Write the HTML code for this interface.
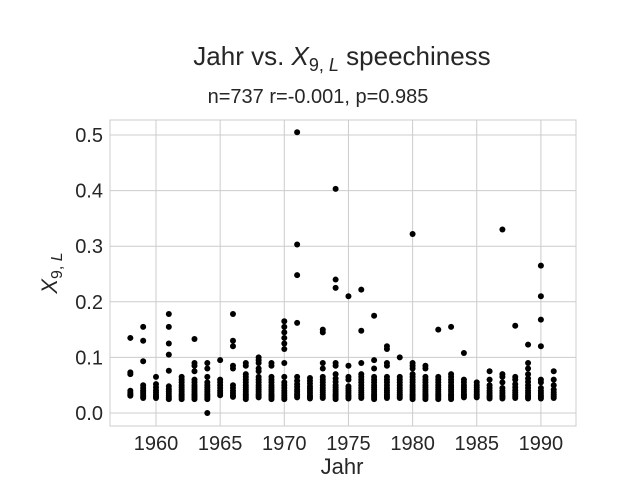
<!DOCTYPE html>
<html><head><meta charset="utf-8"><style>
body{margin:0;background:#fff}
svg text{font-family:"Liberation Sans","DejaVu Sans",sans-serif;fill:#262626}
</style></head><body>
<svg id="chart" width="640" height="480">
<rect width="640" height="480" fill="#fff"/>
<g id="grid"></g>
<rect x="110" y="120" width="466" height="306" fill="none" stroke="#cccccc" stroke-width="1"/>
<g id="dots"></g>
<g id="ticks"></g>
<text x="342" y="65" font-size="26" text-anchor="middle">Jahr vs. <tspan font-style="italic">X</tspan><tspan font-size="18" dy="6">9, </tspan><tspan font-size="18" font-style="italic">L</tspan><tspan dy="-6"> speechiness</tspan></text>
<text x="318" y="103" font-size="20" text-anchor="middle">n=737 r=-0.001, p=0.985</text>
<text x="342" y="474" font-size="22" text-anchor="middle">Jahr</text>
<text transform="translate(57,273) rotate(-90)" font-size="22" text-anchor="middle"><tspan font-style="italic">X</tspan><tspan font-size="16" dy="5">9, </tspan><tspan font-size="16" font-style="italic">L</tspan></text>
</svg>
<script>
const xTicks=[1960,1965,1970,1975,1980,1985,1990];
const yTicks=[0.0,0.1,0.2,0.3,0.4,0.5];
const yTickLabels=["0.0","0.1","0.2","0.3","0.4","0.5"];
const years=[1958,1959,1960,1961,1962,1963,1964,1965,1966,1967,1968,1969,1970,1971,1972,1973,1974,1975,1976,1977,1978,1979,1980,1981,1982,1983,1984,1985,1986,1987,1988,1989,1990,1991];
const values=[
[0.135,0.073,0.070,0.040,0.036,0.033,0.031],
[0.155,0.130,0.093,0.050,0.045,0.041,0.038,0.035,0.032,0.029,0.027],
[0.065,0.052,0.046,0.041,0.037,0.033,0.030,0.027],
[0.178,0.155,0.125,0.105,0.076,0.048,0.043,0.039,0.035,0.031,0.028,0.025],
[0.065,0.060,0.055,0.050,0.046,0.042,0.038,0.034,0.031,0.028,0.025],
[0.133,0.090,0.085,0.075,0.060,0.055,0.050,0.046,0.042,0.038,0.034,0.031,0.028,0.025],
[0.090,0.080,0.065,0.055,0.050,0.046,0.042,0.038,0.034,0.031,0.028,0.025,0.0],
[0.095,0.060,0.055,0.050,0.045,0.040,0.036,0.032],
[0.178,0.130,0.120,0.085,0.080,0.050,0.045,0.040,0.036,0.032,0.029],
[0.090,0.085,0.070,0.065,0.060,0.055,0.050,0.046,0.042,0.038,0.034,0.031,0.028,0.025],
[0.100,0.095,0.090,0.080,0.075,0.065,0.060,0.055,0.050,0.046,0.042,0.038,0.034,0.031,0.028],
[0.090,0.085,0.065,0.060,0.055,0.050,0.046,0.042,0.038,0.034,0.031,0.028,0.025],
[0.165,0.155,0.145,0.135,0.125,0.115,0.090,0.065,0.055,0.050,0.045,0.040,0.036,0.032,0.028,0.025],
[0.505,0.303,0.248,0.162,0.065,0.058,0.052,0.047,0.042,0.038,0.034,0.031,0.028],
[0.063,0.058,0.053,0.048,0.044,0.040,0.036,0.032,0.029,0.026],
[0.150,0.145,0.090,0.080,0.065,0.060,0.055,0.050,0.045,0.041,0.037,0.033,0.030,0.027],
[0.403,0.240,0.225,0.090,0.085,0.070,0.062,0.056,0.050,0.046,0.042,0.038,0.034,0.031,0.028,0.025],
[0.210,0.085,0.065,0.060,0.048,0.044,0.040,0.036,0.032,0.029,0.026],
[0.222,0.148,0.090,0.070,0.065,0.060,0.055,0.050,0.045,0.041,0.037,0.033,0.030,0.027],
[0.175,0.095,0.080,0.065,0.060,0.055,0.050,0.046,0.042,0.038,0.034,0.031,0.028,0.025],
[0.120,0.115,0.090,0.085,0.065,0.060,0.055,0.050,0.045,0.041,0.037,0.033,0.030,0.027],
[0.100,0.065,0.060,0.055,0.050,0.045,0.041,0.037,0.033,0.030,0.027],
[0.322,0.090,0.085,0.080,0.070,0.065,0.060,0.055,0.050,0.046,0.042,0.038,0.034,0.031,0.028,0.025],
[0.085,0.080,0.065,0.060,0.055,0.050,0.046,0.042,0.038,0.034,0.031,0.028,0.025],
[0.150,0.065,0.060,0.055,0.050,0.046,0.042,0.038,0.034,0.031,0.028,0.025],
[0.155,0.070,0.065,0.060,0.055,0.050,0.046,0.042,0.038,0.034,0.031,0.028,0.025],
[0.108,0.060,0.055,0.050,0.046,0.042,0.038,0.034,0.031,0.028],
[0.055,0.050,0.046,0.042,0.038,0.034,0.031,0.028],
[0.075,0.060,0.050,0.045,0.040,0.036,0.032,0.029,0.026],
[0.330,0.070,0.065,0.055,0.045,0.040,0.036,0.032,0.029,0.026],
[0.157,0.065,0.060,0.052,0.046,0.041,0.037,0.033,0.030,0.027],
[0.123,0.090,0.080,0.070,0.062,0.056,0.050,0.045,0.040,0.036,0.032,0.029,0.026],
[0.265,0.210,0.168,0.120,0.060,0.055,0.045,0.040,0.036,0.032,0.029,0.026],
[0.075,0.060,0.050,0.042,0.037,0.033,0.030,0.027]
];
const NS='http://www.w3.org/2000/svg';
function xs(v){return 156+(v-1960)*12.83;}
function ys(v){return 413-v*556;}
function mk(t,a,p){const e=document.createElementNS(NS,t);for(const k in a)e.setAttribute(k,a[k]);p.appendChild(e);return e;}
const grid=document.getElementById('grid'),ticks=document.getElementById('ticks'),dots=document.getElementById('dots');
xTicks.forEach(t=>{
  const l=mk('line',{x1:xs(t),x2:xs(t),y1:120,y2:426,stroke:'#cccccc','stroke-width':1},grid);
  
  
  const tx=mk('text',{x:xs(t),y:450,'font-size':20,'text-anchor':'middle'},ticks);
  tx.textContent=t;
  
  
});
yTicks.forEach((t,i)=>{
  const l=mk('line',{x1:110,x2:576,y1:ys(t),y2:ys(t),stroke:'#cccccc','stroke-width':1},grid);
  
  
  const tx=mk('text',{x:103,y:ys(t)+7,'font-size':20,'text-anchor':'end'},ticks);
  tx.textContent=yTickLabels[i];
  
  
});
years.forEach((yr,i)=>{
  values[i].forEach(v=>{
    const c=mk('circle',{cx:xs(yr),cy:ys(v),r:3,fill:'#000'},dots);
    
    
  });
});
</script>
</body></html>
